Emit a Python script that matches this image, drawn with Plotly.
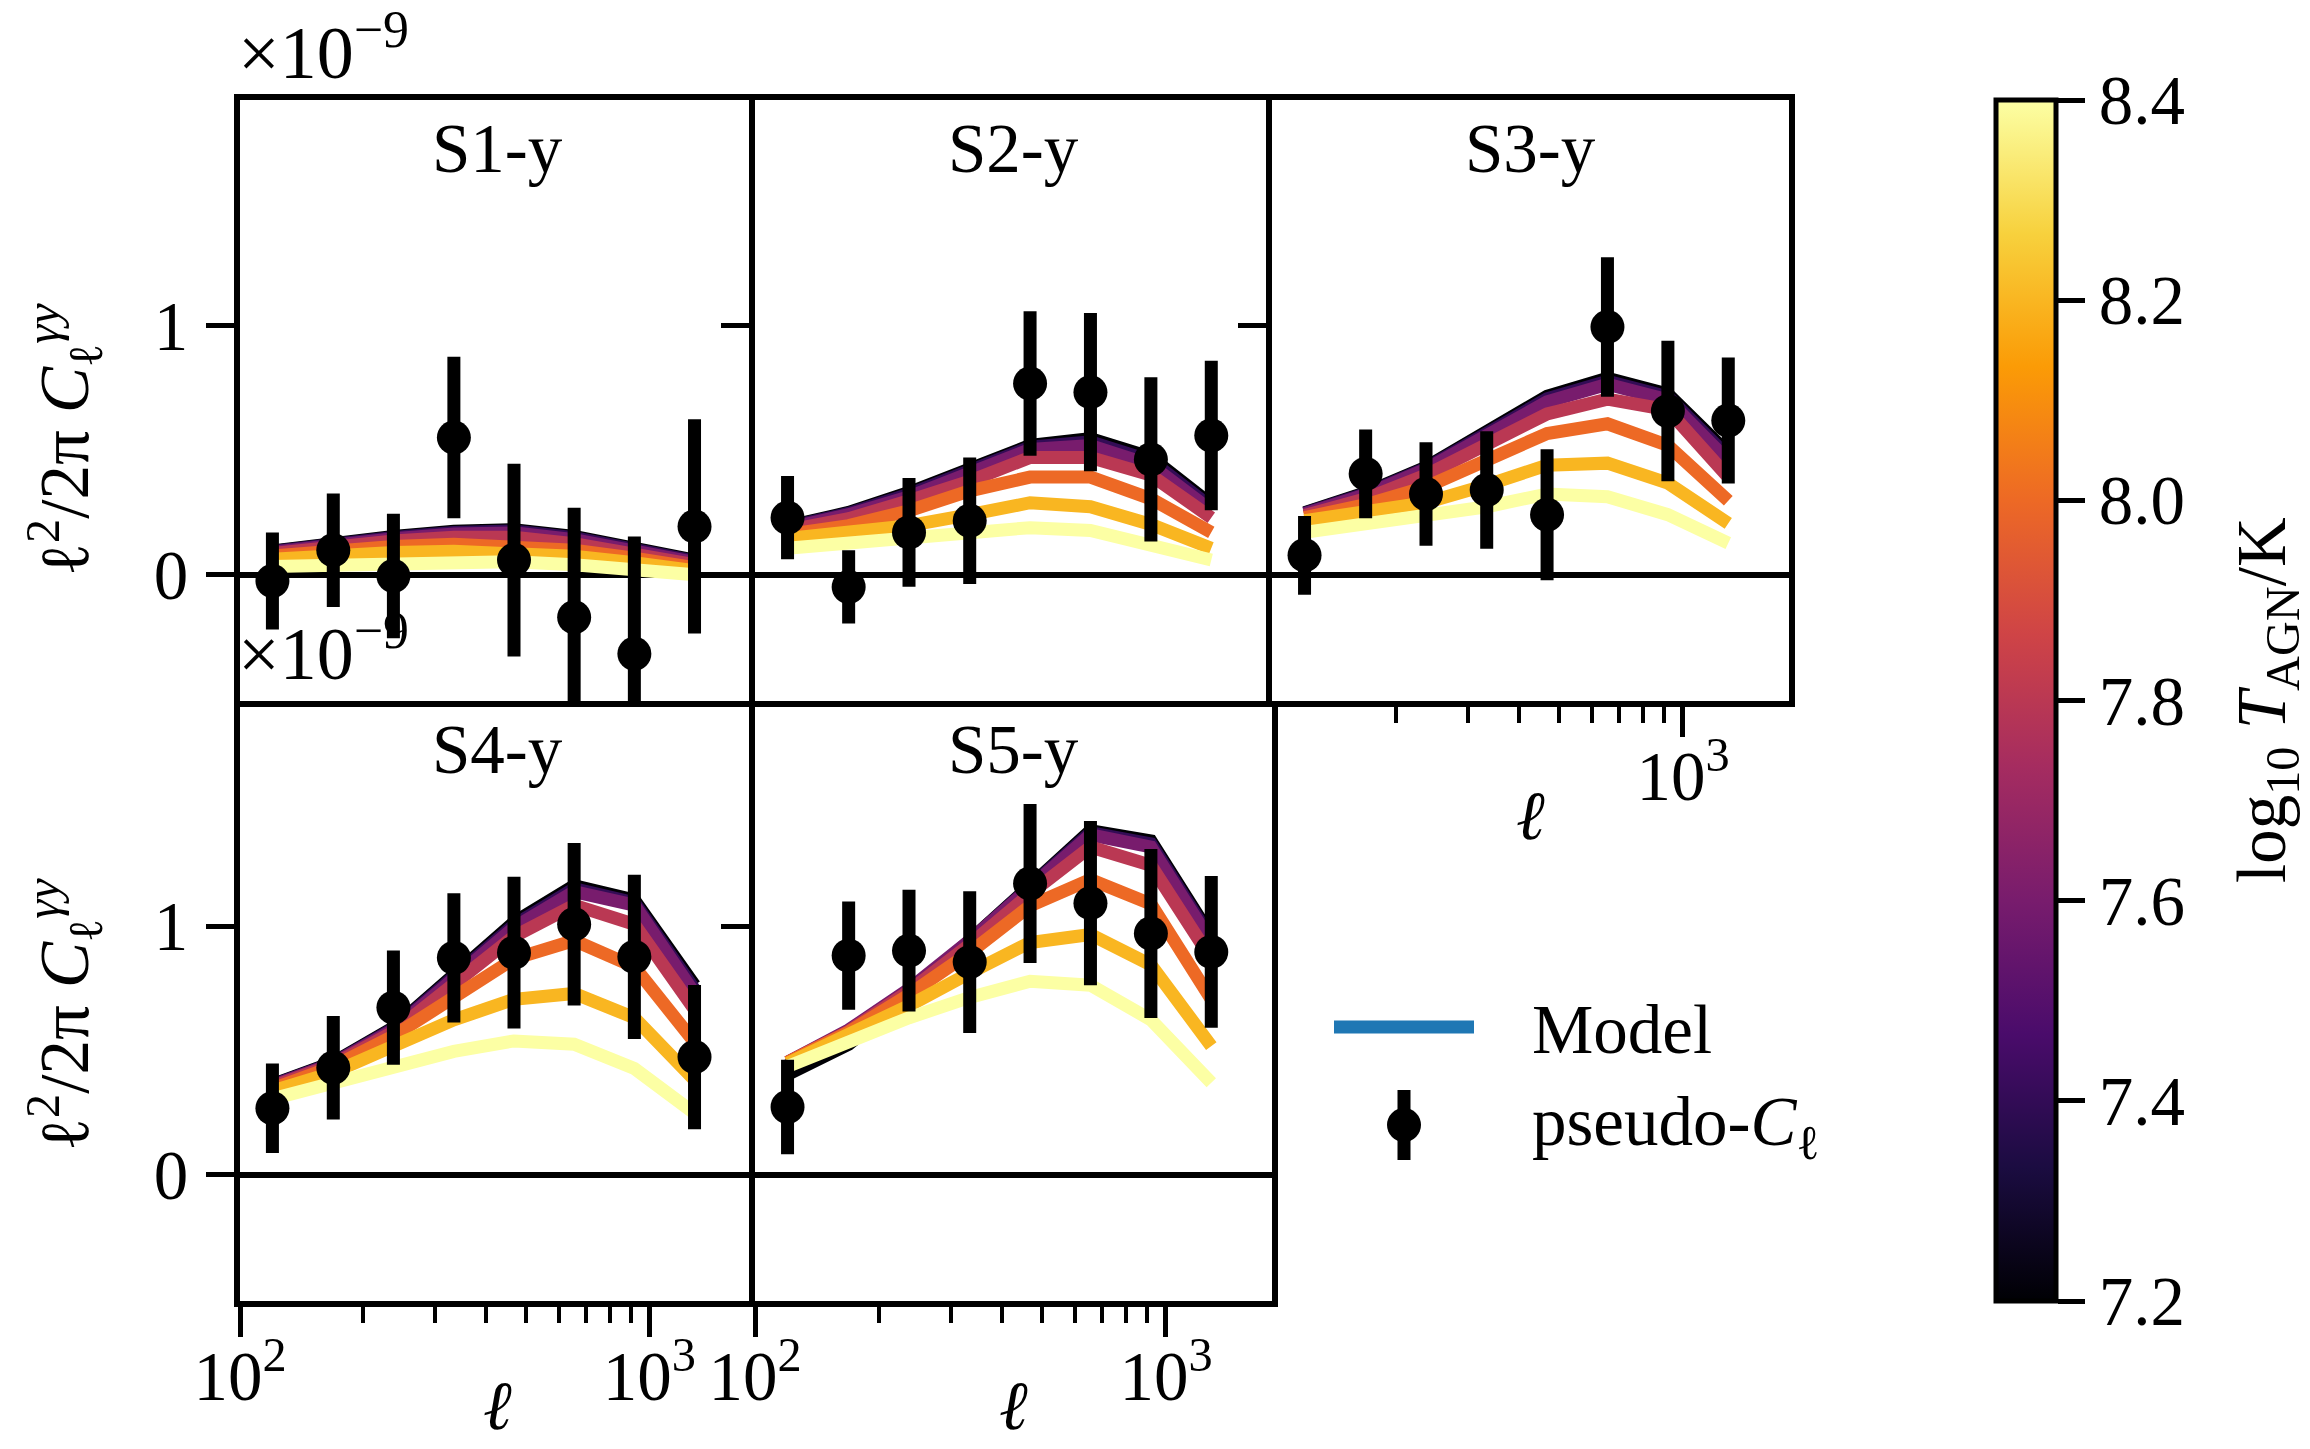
import plotly.graph_objects as go
from plotly.colors import sample_colorscale

W, H = 2310, 1449

# ---------------- data ----------------
ell = [120, 169, 237, 333, 467, 655, 919, 1289]
log10_T_AGN = [7.2, 7.4, 7.6, 7.8, 8.0, 8.2, 8.4]
panel_names = ["S1-y", "S2-y", "S3-y", "S4-y", "S5-y"]

# pseudo-C_ell measurements (units of 1e-9)
data_S1 = [-0.025, 0.098, -0.005, 0.551, 0.059, -0.171, -0.317, 0.194]
err_S1 = [0.195, 0.228, 0.25, 0.324, 0.387, 0.44, 0.47, 0.43]
data_S2 = [0.229, -0.049, 0.17, 0.217, 0.768, 0.733, 0.463, 0.559]
err_S2 = [0.167, 0.147, 0.218, 0.254, 0.29, 0.318, 0.33, 0.3]
data_S3 = [0.078, 0.405, 0.324, 0.34, 0.241, 0.995, 0.657, 0.619]
err_S3 = [0.158, 0.178, 0.208, 0.236, 0.263, 0.28, 0.282, 0.253]
data_S4 = [0.268, 0.431, 0.673, 0.873, 0.894, 1.008, 0.877, 0.474]
err_S4 = [0.18, 0.208, 0.23, 0.26, 0.305, 0.327, 0.33, 0.29]
data_S5 = [0.273, 0.882, 0.902, 0.856, 1.172, 1.093, 0.971, 0.897]
err_S5 = [0.19, 0.218, 0.245, 0.285, 0.32, 0.33, 0.34, 0.305]

# model curves, one row per log10 T_AGN value (units of 1e-9)
model_S1 = [
    [0.095, 0.127, 0.154, 0.175, 0.181, 0.154, 0.110, 0.059],
    [0.093, 0.124, 0.150, 0.170, 0.176, 0.149, 0.105, 0.055],
    [0.090, 0.120, 0.145, 0.163, 0.168, 0.141, 0.098, 0.050],
    [0.085, 0.112, 0.135, 0.150, 0.150, 0.125, 0.085, 0.040],
    [0.075, 0.097, 0.113, 0.122, 0.115, 0.098, 0.066, 0.028],
    [0.062, 0.078, 0.089, 0.094, 0.088, 0.074, 0.048, 0.016],
    [0.033, 0.040, 0.048, 0.057, 0.052, 0.040, 0.022, 0.000],
]
model_S2 = [
    [0.194, 0.250, 0.330, 0.424, 0.519, 0.546, 0.471, 0.281],
    [0.191, 0.246, 0.323, 0.416, 0.512, 0.534, 0.457, 0.270],
    [0.186, 0.241, 0.313, 0.408, 0.503, 0.519, 0.440, 0.257],
    [0.178, 0.225, 0.297, 0.376, 0.471, 0.471, 0.400, 0.229],
    [0.162, 0.197, 0.257, 0.337, 0.392, 0.392, 0.305, 0.170],
    [0.146, 0.170, 0.197, 0.241, 0.289, 0.273, 0.202, 0.106],
    [0.106, 0.130, 0.146, 0.178, 0.189, 0.178, 0.122, 0.059],
]
model_S3 = [
    [0.249, 0.329, 0.432, 0.575, 0.717, 0.789, 0.725, 0.487],
    [0.247, 0.325, 0.428, 0.567, 0.706, 0.777, 0.714, 0.472],
    [0.244, 0.321, 0.424, 0.559, 0.694, 0.765, 0.702, 0.456],
    [0.238, 0.305, 0.400, 0.519, 0.646, 0.705, 0.662, 0.392],
    [0.229, 0.281, 0.352, 0.456, 0.567, 0.606, 0.519, 0.297],
    [0.217, 0.249, 0.289, 0.360, 0.440, 0.448, 0.368, 0.206],
    [0.170, 0.202, 0.233, 0.273, 0.324, 0.313, 0.241, 0.127],
]
model_S4 = [
    [0.363, 0.453, 0.592, 0.804, 1.016, 1.163, 1.106, 0.763],
    [0.361, 0.450, 0.588, 0.796, 1.005, 1.151, 1.095, 0.746],
    [0.359, 0.448, 0.583, 0.788, 0.995, 1.139, 1.085, 0.730],
    [0.355, 0.444, 0.575, 0.771, 0.959, 1.085, 1.008, 0.665],
    [0.346, 0.436, 0.559, 0.722, 0.869, 0.943, 0.837, 0.534],
    [0.338, 0.412, 0.518, 0.624, 0.706, 0.730, 0.632, 0.382],
    [0.306, 0.371, 0.436, 0.497, 0.539, 0.526, 0.428, 0.248],
]
model_S5 = [
    [0.404, 0.526, 0.722, 0.935, 1.163, 1.384, 1.343, 0.959],
    [0.440, 0.570, 0.740, 0.940, 1.160, 1.376, 1.331, 0.947],
    [0.453, 0.583, 0.747, 0.943, 1.155, 1.368, 1.319, 0.935],
    [0.453, 0.578, 0.739, 0.926, 1.131, 1.319, 1.245, 0.869],
    [0.453, 0.575, 0.725, 0.894, 1.082, 1.188, 1.090, 0.706],
    [0.449, 0.559, 0.681, 0.812, 0.935, 0.967, 0.845, 0.518],
    [0.436, 0.534, 0.632, 0.714, 0.779, 0.763, 0.624, 0.371],
]

y_ticks = [0, 1]
x_major = [100, 1000]
x_major_text = ["10<sup>2</sup>", "10<sup>3</sup>"]
x_minor = [200, 300, 400, 500, 600, 700, 800, 900]
cbar_ticks = [7.2, 7.4, 7.6, 7.8, 8.0, 8.2, 8.4]

# ---------------- figure ----------------
FONT = "Liberation Serif"
FS = 69
tmin, tmax = min(log10_T_AGN), max(log10_T_AGN)
line_colors = sample_colorscale("Inferno", [(t - tmin) / (tmax - tmin) for t in log10_T_AGN])

panels = [
    (data_S1, err_S1, model_S1),
    (data_S2, err_S2, model_S2),
    (data_S3, err_S3, model_S3),
    (data_S4, err_S4, model_S4),
    (data_S5, err_S5, model_S5),
]

fig = go.Figure()
for i, (d, e, m) in enumerate(panels):
    xa = "x" if i == 0 else f"x{i+1}"
    ya = "y" if i == 0 else f"y{i+1}"
    for k, curve in enumerate(m):
        fig.add_trace(go.Scatter(x=ell, y=curve, mode="lines", xaxis=xa, yaxis=ya,
                                 line=dict(color=line_colors[k], width=13),
                                 showlegend=False, hoverinfo="skip"))
    fig.add_trace(go.Scatter(x=ell, y=d, mode="markers", xaxis=xa, yaxis=ya,
                             marker=dict(color="black", size=34, line=dict(width=0)),
                             error_y=dict(type="data", array=e, color="black", thickness=13, width=0),
                             showlegend=False))

# colorbar holder
fig.add_trace(go.Scatter(x=[None], y=[None], mode="markers", xaxis="x", yaxis="y",
                         marker=dict(color=[tmin], cmin=tmin, cmax=tmax, colorscale="Inferno",
                                     showscale=True,
                                     colorbar=dict(x=1996 / W, xanchor="left", y=1 - 700.5 / H, yanchor="middle",
                                                   len=1201 / H, lenmode="fraction", thickness=60,
                                                   xpad=0, ypad=0, outlinewidth=5, outlinecolor="black",
                                                   tickmode="array", tickvals=cbar_ticks,
                                                   ticktext=[f"{t:.1f}" for t in cbar_ticks],
                                                   ticks="outside", ticklen=27, tickwidth=5, tickcolor="black",
                                                   tickprefix="\u2002",
                                                   tickfont=dict(family=FONT, size=FS, color="black"))),
                         showlegend=False, hoverinfo="skip"))

xd = [(240 / W, 755 / W), (755 / W, 1272 / W), (1272 / W, 1789 / W)]
yd_top = (1 - 701 / H, 1 - 100 / H)
yd_bot = (1 - 1301 / H, 1 - 701 / H)
layout_pos = [(0, yd_top), (1, yd_top), (2, yd_top), (0, yd_bot), (1, yd_bot)]
# which frame sides each panel draws itself (shared borders drawn once)
x_mirror = [True, True, True, False, False]
y_mirror = [False, False, True, False, True]

XR = [2, 3.258]
YR = [-0.507, 1.906]
axis_common = dict(showline=True, linecolor="black", linewidth=6, automargin=False,
                   showgrid=False, zeroline=False,
                   tickfont=dict(family=FONT, size=FS, color="black"))

lay = dict()
for i, (col, yd) in enumerate(layout_pos):
    xkey = "xaxis" if i == 0 else f"xaxis{i+1}"
    ykey = "yaxis" if i == 0 else f"yaxis{i+1}"
    yname = "y" if i == 0 else f"y{i+1}"
    xname = "x" if i == 0 else f"x{i+1}"
    xa = dict(axis_common, domain=xd[col], type="log", range=XR, anchor=yname, mirror=x_mirror[i])
    if i in (0, 1):
        xa.update(ticks="", showticklabels=False)
    elif i == 2:
        xa.update(ticks="outside", ticklen=30, tickwidth=5, tickcolor="black",
                  tickmode="array", tickvals=[x_major[1]], ticktext=[x_major_text[1]],
                  ticklabelstandoff=-20,
                  minor=dict(ticks="outside", ticklen=16, tickwidth=4, tickcolor="black",
                             tickmode="array", tickvals=x_minor))
    else:
        xa.update(ticks="outside", ticklen=30, tickwidth=5, tickcolor="black",
                  tickmode="array", tickvals=x_major, ticktext=x_major_text,
                  ticklabelstandoff=-20,
                  minor=dict(ticks="outside", ticklen=16, tickwidth=4, tickcolor="black",
                             tickmode="array", tickvals=x_minor))
    ya = dict(axis_common, domain=yd, range=YR, anchor=xname, mirror=y_mirror[i],
              zeroline=True, zerolinecolor="black", zerolinewidth=6,
              ticks="outside", ticklen=28, tickwidth=5, tickcolor="black",
              tickmode="array", tickvals=y_ticks, ticktext=[str(v) for v in y_ticks],
              showticklabels=(col == 0), ticklabelstandoff=4)
    lay[xkey] = xa
    lay[ykey] = ya

fig.update_layout(**lay)

ann = []
# panel titles
for i, (col, yd) in enumerate(layout_pos):
    xc = (xd[col][0] + xd[col][1]) / 2
    ytop_px = 100 if yd == yd_top else 701
    ann.append(dict(text=panel_names[i], x=xc, y=1 - (ytop_px + 49) / H, xref="paper", yref="paper",
                    xanchor="center", yanchor="middle", showarrow=False,
                    font=dict(family=FONT, size=FS, color="black")))
# offset texts
for ytop_px in (100, 701):
    ann.append(dict(text="\u00d710<sup>\u22129</sup>", x=236 / W, y=1 - ytop_px / H, xref="paper", yref="paper",
                    xanchor="left", yanchor="bottom", yshift=4, showarrow=False,
                    font=dict(family=FONT, size=74, color="black")))
# y-axis titles
ylab = "\u2113<sup>2</sup>/2\u03c0 <i>C</i><sub>\u2113</sub><sup><i>\u03b3y</i></sup>"
for yc in (440, 1015):
    ann.append(dict(text=ylab, x=64 / W, y=1 - yc / H, xref="paper", yref="paper", textangle=-90,
                    xanchor="center", yanchor="middle", showarrow=False,
                    font=dict(family=FONT, size=FS, color="black")))
# x-axis titles
for (xc, yc) in (((240 + 755) / 2, 1406), ((755 + 1272) / 2, 1406), ((1272 + 1789) / 2, 816)):
    ann.append(dict(text="<i>\u2113</i>", x=xc / W, y=1 - yc / H, xref="paper", yref="paper",
                    xanchor="center", yanchor="middle", showarrow=False,
                    font=dict(family=FONT, size=FS, color="black")))
# colorbar title
ann.append(dict(text="log<sub>10</sub> <i>T</i><sub>AGN</sub>/K", x=2267 / W, y=1 - 700 / H,
                xref="paper", yref="paper", textangle=-90, xanchor="center", yanchor="middle",
                showarrow=False, font=dict(family=FONT, size=FS, color="black")))
# legend texts
ann.append(dict(text="Model", x=1530 / W, y=1 - 1030 / H, xref="paper", yref="paper",
                xanchor="left", yanchor="middle", showarrow=False,
                font=dict(family=FONT, size=FS, color="black")))
ann.append(dict(text="pseudo-<i>C</i><sub>\u2113</sub>", x=1530 / W, y=1 - 1126 / H, xref="paper", yref="paper",
                xanchor="left", yanchor="middle", showarrow=False,
                font=dict(family=FONT, size=FS, color="black")))

shapes = [
    dict(type="line", xref="paper", yref="paper", x0=1334 / W, x1=1474 / W, y0=1 - 1027 / H, y1=1 - 1027 / H,
         line=dict(color="#1f77b4", width=13)),
    dict(type="line", xref="paper", yref="paper", x0=1404 / W, x1=1404 / W, y0=1 - 1090 / H, y1=1 - 1160 / H,
         line=dict(color="black", width=13)),
    dict(type="circle", xref="paper", yref="paper", x0=1387 / W, x1=1421 / W, y0=1 - 1142 / H, y1=1 - 1108 / H,
         fillcolor="black", line=dict(width=0)),
]

fig.update_layout(width=W, height=H, margin=dict(l=0, r=0, t=0, b=0, autoexpand=False),
                  paper_bgcolor="white", plot_bgcolor="white",
                  font=dict(family=FONT, size=FS, color="black"),
                  annotations=ann, shapes=shapes, showlegend=False)

fig.write_html("out.html")
